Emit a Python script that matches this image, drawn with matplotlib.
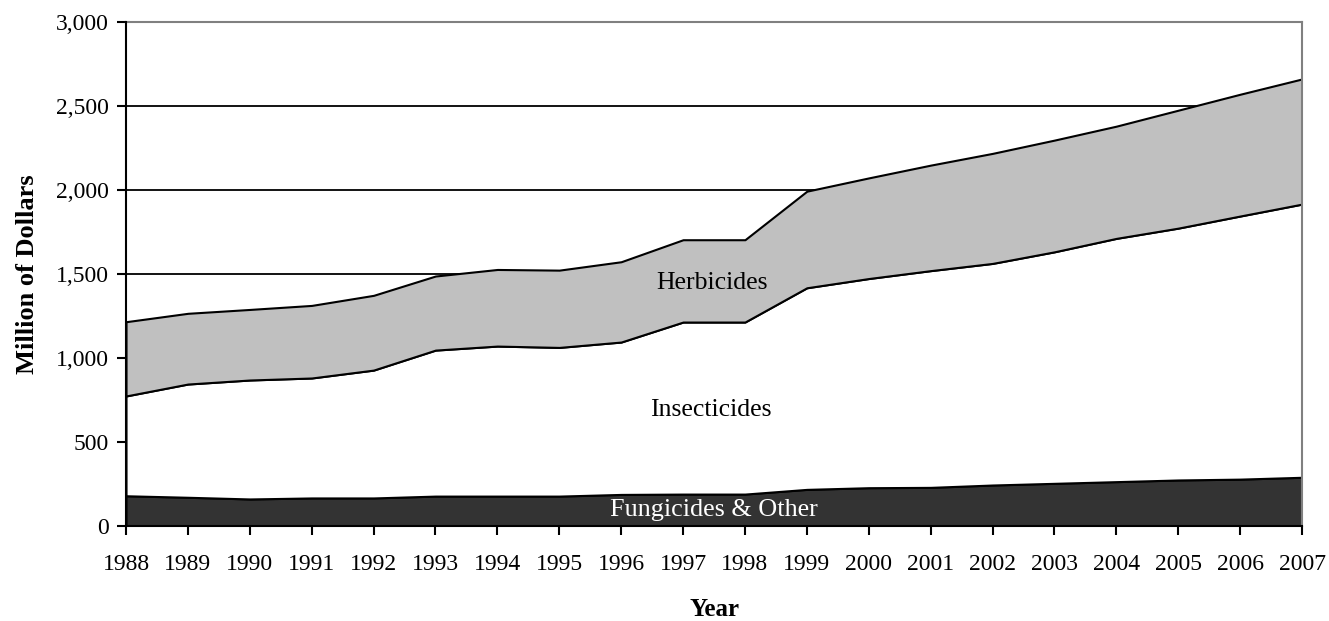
import matplotlib.pyplot as plt
from matplotlib.ticker import FuncFormatter
import numpy as np

plt.rcParams["font.family"] = ["Liberation Serif", "DejaVu Serif"]

years = list(range(1988, 2008))

# stacked layers, million dollars
fungicides = [180, 171, 161, 167, 167, 178, 178, 178, 188, 190,
              190, 218, 228, 230, 244, 254, 264, 274, 279, 290]
insecticides_top = [774, 845, 869, 881, 928, 1047, 1071, 1063, 1095, 1214,
                    1214, 1418, 1473, 1520, 1563, 1632, 1712, 1773, 1845, 1916]
total_top = [1216, 1266, 1289, 1313, 1373, 1488, 1527, 1523, 1573, 1704,
             1704, 1993, 2072, 2148, 2218, 2297, 2380, 2475, 2570, 2661]

insecticides = np.array(insecticides_top) - np.array(fungicides)
herbicides = np.array(total_top) - np.array(insecticides_top)

fig = plt.figure(figsize=(13.29, 6.21), dpi=100)
ax = fig.add_axes([126 / 1329, 1 - 526 / 621, 1176 / 1329, 504 / 621])

ax.stackplot(years, fungicides, insecticides, herbicides,
             colors=["#333333", "#ffffff", "#c0c0c0"],
             edgecolor="black", linewidth=1.5, zorder=2)

ax.set_xlim(1988, 2007)
ax.set_ylim(0, 3000)
ax.set_xticks(years)
ax.set_yticks(range(0, 3001, 500))
ax.yaxis.set_major_formatter(FuncFormatter(lambda v, p: f"{int(v):,}"))
ax.tick_params(direction="out", length=6.5, width=1.5, labelsize=17, pad=6)
ax.tick_params(axis="x", pad=14)

ax.yaxis.grid(True, color="black", linewidth=1.3)
ax.set_axisbelow(True)

for side in ["left", "bottom"]:
    ax.spines[side].set_linewidth(1.5)
    ax.spines[side].set_zorder(3)
for side in ["top", "right"]:
    ax.spines[side].set_color("#808080")
    ax.spines[side].set_linewidth(1.5)

ax.set_ylabel("Million of Dollars", fontsize=19, fontweight="bold", labelpad=12)
ax.set_xlabel("Year", fontsize=18, fontweight="bold", labelpad=16)

ax.text(1997.47, 1446, "Herbicides", fontsize=18.5, ha="center", va="center", zorder=4)
ax.text(1997.45, 690, "Insecticides", fontsize=18.5, ha="center", va="center", zorder=4)
ax.text(1997.5, 95, "Fungicides & Other", fontsize=18.8, ha="center", va="center",
        color="white", zorder=4)

fig.savefig("out.png", dpi=100)
